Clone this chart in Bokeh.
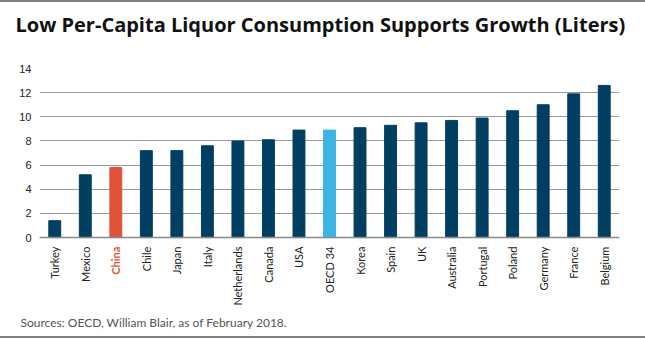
import math
from bokeh.plotting import figure
from bokeh.models import (ColumnDataSource, FactorRange, Range1d, FixedTicker,
                          Title, Span)
from bokeh.core.properties import value
from bokeh.embed import file_html
from bokeh.resources import INLINE

countries = ["Turkey", "Mexico", "China", "Chile", "Japan", "Italy", "Netherlands",
             "Canada", "USA", "OECD 34", "Korea", "Spain", "UK", "Australia",
             "Portugal", "Poland", "Germany", "France", "Belgium"]
values = [1.4, 5.2, 5.8, 7.2, 7.2, 7.6, 8.0, 8.1, 8.9, 8.9, 9.1, 9.3, 9.5, 9.7,
          9.9, 10.5, 11.0, 11.9, 12.6]
y_ticks = [0, 2, 4, 6, 8, 10, 12, 14]

NAVY = "#003F62"
RED = "#E0533A"
BLUE = "#3CB4E5"

bar_colors = [RED if c == "China" else BLUE if c == "OECD 34" else NAVY for c in countries]
label_colors = [RED if c == "China" else "#222222" for c in countries]
label_fonts = ["bold" if c == "China" else "normal" for c in countries]

src = ColumnDataSource(dict(x=countries, top=values, color=bar_colors,
                            lc=label_colors, lf=label_fonts,
                            ly=[0] * len(countries)))

p = figure(width=645, height=338, x_range=FactorRange(*countries, range_padding=0),
           y_range=Range1d(-6.2, 14), output_backend="svg", toolbar_location=None,
           min_border_left=39, min_border_right=26, min_border_top=66,
           min_border_bottom=28)
p.outline_line_color = None
p.background_fill_color = "white"
p.border_fill_color = "white"

p.xgrid.grid_line_color = None
p.ygrid.ticker = FixedTicker(ticks=y_ticks)
p.ygrid.grid_line_color = "#9a9a9a"
p.ygrid.grid_line_width = 1

p.vbar(x="x", top="top", width=0.39, color="color", source=src)

p.add_layout(Span(location=0, dimension="width", line_color="#8a8a8a", line_width=1.5))

p.text(x="x", y="ly", text="x", source=src, angle=math.pi / 2, y_offset=9,
       text_align="right", text_baseline="middle",
       text_font=value("Lato"), text_font_size="11px",
       text_color="lc", text_font_style="lf")

p.yaxis.ticker = FixedTicker(ticks=y_ticks)
p.yaxis.axis_line_color = None
p.yaxis.major_tick_line_color = None
p.yaxis.minor_tick_line_color = None
p.yaxis.major_tick_out = 0
p.yaxis.major_tick_in = 0
p.yaxis.minor_tick_out = 0
p.yaxis.major_label_standoff = 8
p.yaxis.major_label_text_font = "Liberation Sans"
p.yaxis.major_label_text_font_size = "11px"
p.yaxis.major_label_text_color = "#222222"
p.xaxis.visible = False

spacer = Title(text=" ", text_font_size="12px", align="left")
p.add_layout(spacer, "above")

t = Title(text="Low Per-Capita Liquor Consumption Supports Growth (Liters)",
          text_font="Open Sans", text_font_style="bold", text_font_size="20px",
          text_color="#111111", align="left", offset=-24)
p.add_layout(t, "above")

s = Title(text="Sources: OECD, William Blair, as of February 2018.",
          text_font="Lato", text_font_style="normal", text_font_size="12px",
          text_color="#555555", align="left", offset=-19, standoff=0)
p.add_layout(s, "below")

p.styles = {"border-top": "2px solid #808080", "border-bottom": "2px solid #808080"}

open("out.html", "w").write(file_html(p, INLINE))
